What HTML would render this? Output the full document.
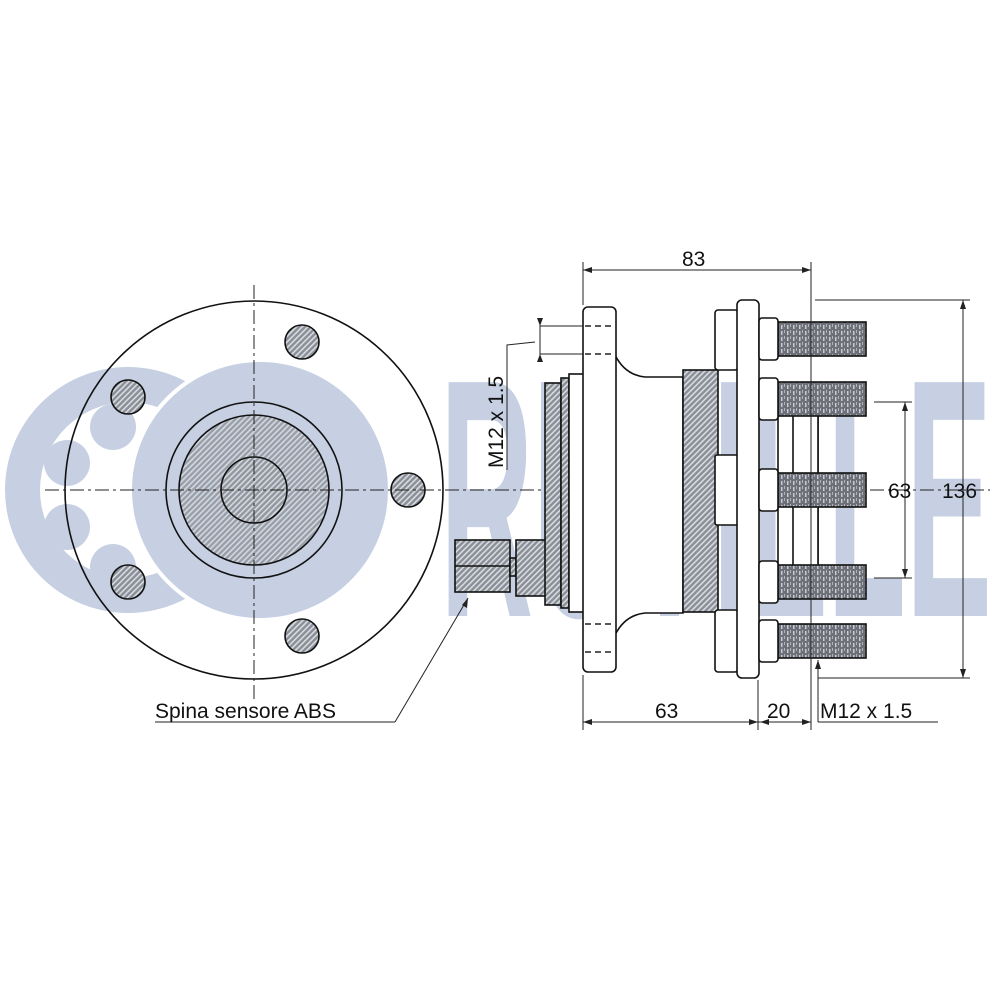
<!DOCTYPE html>
<html><head><meta charset="utf-8"><style>
html,body{margin:0;padding:0;background:#fff}
svg{display:block}
text{font-family:"Liberation Sans",Arial,sans-serif;fill:#111}
</style></head><body>
<svg width="1000" height="1000" viewBox="0 0 1000 1000" xmlns="http://www.w3.org/2000/svg">
<defs>
<pattern id="h" width="4" height="4" patternUnits="userSpaceOnUse" patternTransform="rotate(45)">
<rect width="4" height="4" fill="#8a8e96"/><rect width="1.6" height="4" fill="#d8dbe0"/></pattern>
<pattern id="t" width="6" height="6" patternUnits="userSpaceOnUse">
<rect width="6" height="6" fill="#6d7079"/><rect x="1" y="1" width="1.5" height="4" fill="#c8cbd0"/><rect x="4" y="0" width="1" height="3" fill="#b0b3b8"/></pattern>
</defs>
<!-- watermark -->
<g fill="#c6d0e2">
<path fill-rule="evenodd" d="M5,490 a123,123 0 1,0 246,0 a123,123 0 1,0 -246,0 Z M40,490 a88,88 0 1,0 176,0 a88,88 0 1,0 -176,0 Z"/>
<circle cx="113" cy="427" r="23"/><circle cx="67" cy="463" r="23"/><circle cx="67" cy="527" r="23"/><circle cx="113" cy="567" r="23"/>
<circle cx="260" cy="490" r="130" stroke="#fff" stroke-width="4"/>
<text x="440" y="616" font-size="340" font-weight="bold" textLength="552" lengthAdjust="spacingAndGlyphs" style="fill:#c6d0e2">RUVILLE</text>
</g>
<!-- left view -->
<g stroke="#111" stroke-width="1.6" fill="none">
<circle cx="254" cy="490" r="189"/>
<circle cx="254" cy="490" r="88"/>
<circle cx="254" cy="490" r="75" fill="url(#h)" fill-opacity="0.75"/>
<circle cx="254" cy="490" r="33" fill="url(#h)" fill-opacity="0.5"/>
<g fill="url(#h)"><circle cx="302" cy="342" r="17"/><circle cx="128" cy="397" r="17"/><circle cx="128" cy="582" r="17"/><circle cx="302" cy="636" r="17"/><circle cx="408" cy="490" r="17"/></g>
</g>
<g stroke="#222" stroke-width="1" stroke-dasharray="14,4,3,4" fill="none">
<line x1="45" y1="490" x2="990" y2="490"/><line x1="254" y1="285" x2="254" y2="700"/>
</g>
<!-- right view -->
<g stroke="#111" stroke-width="1.6">
<rect x="455" y="540" width="55" height="52" fill="url(#h)"/>
<line x1="455" y1="566" x2="510" y2="566"/>
<rect x="510" y="558" width="6" height="18" fill="url(#h)"/>
<rect x="516" y="540" width="30" height="56" fill="url(#h)"/>
<rect x="545" y="383" width="16" height="222" fill="url(#h)"/>
<rect x="561" y="378" width="8" height="230" fill="url(#h)"/>
<rect x="569" y="374" width="16" height="238" fill="#fff"/>
<path d="M615,355 q10,20 30,22 h38 v236 h-38 q-20,2 -30,22 Z" fill="#fff"/>
<rect x="683" y="370" width="35" height="242" fill="url(#h)"/>
<rect x="583" y="307" width="33" height="365" rx="5" fill="#fff"/>
<rect x="715" y="310" width="23" height="60" rx="3" fill="#fff"/>
<rect x="715" y="610" width="23" height="62" rx="3" fill="#fff"/>
<rect x="715" y="455" width="23" height="70" rx="2" fill="#fff"/>
<rect x="737" y="300" width="22" height="378" rx="5" fill="#fff"/>
<rect x="778" y="402" width="40" height="176" fill="#fff"/>
<rect x="793" y="402" width="25" height="176" fill="#fff"/>
<g fill="url(#t)">
<rect x="778" y="322" width="88" height="34"/><rect x="778" y="382" width="88" height="34"/>
<rect x="778" y="473" width="88" height="34"/><rect x="778" y="565" width="88" height="34"/>
<rect x="778" y="624" width="88" height="34"/>
</g>
<g fill="#fff">
<rect x="759" y="318" width="19" height="42" rx="3"/><rect x="759" y="378" width="19" height="42" rx="3"/>
<rect x="759" y="469" width="19" height="42" rx="3"/><rect x="759" y="561" width="19" height="42" rx="3"/>
<rect x="759" y="620" width="19" height="42" rx="3"/>
</g>
</g>
<g stroke="#222" stroke-width="1.5" stroke-dasharray="6,4">
<line x1="585" y1="326" x2="615" y2="326"/><line x1="585" y1="354" x2="615" y2="354"/>
<line x1="585" y1="624" x2="615" y2="624"/><line x1="585" y1="652" x2="615" y2="652"/>
</g>
<!-- dimensions -->
<g stroke="#222" stroke-width="1" fill="none">
<line x1="583" y1="262" x2="583" y2="305"/><line x1="811" y1="262" x2="811" y2="730"/>
<line x1="583" y1="270" x2="811" y2="270"/>
<line x1="815" y1="300" x2="970" y2="300"/><line x1="818" y1="678" x2="970" y2="678"/>
<line x1="963" y1="300" x2="963" y2="678"/>
<line x1="874" y1="402" x2="912" y2="402"/><line x1="874" y1="578" x2="912" y2="578"/>
<line x1="905" y1="402" x2="905" y2="578"/>
<line x1="583" y1="675" x2="583" y2="730"/><line x1="758" y1="680" x2="758" y2="730"/>
<line x1="583" y1="722" x2="811" y2="722"/>
<line x1="818" y1="660" x2="818" y2="722"/><line x1="818" y1="722" x2="938" y2="722"/>
<line x1="540" y1="326" x2="583" y2="326"/><line x1="540" y1="354" x2="583" y2="354"/>
<line x1="540" y1="318" x2="540" y2="360"/>
<polyline points="507,470 507,345 535,342"/>
<line x1="155" y1="722" x2="395" y2="722"/><line x1="395" y1="722" x2="468" y2="598"/>
</g>
<g fill="#222">
<path d="M583,270 l9,-3 v6 Z"/><path d="M811,270 l-9,-3 v6 Z"/>
<path d="M963,300 l-3,9 h6 Z"/><path d="M963,678 l-3,-9 h6 Z"/>
<path d="M905,402 l-3,9 h6 Z"/><path d="M905,578 l-3,-9 h6 Z"/>
<path d="M583,722 l9,-3 v6 Z"/><path d="M758,722 l-9,-3 v6 Z"/><path d="M760,722 l9,-3 v6 Z"/><path d="M811,722 l-9,-3 v6 Z"/>
<path d="M818,660 l-3,9 h6 Z"/>
<path d="M540,326 l-3,-8 h6 Z"/><path d="M540,354 l-3,8 h6 Z"/>
<path d="M468,598 l-1,10 l-5,-3 Z"/>
</g>
<g font-size="21">
<text x="682" y="266">83</text>
<text x="888" y="498">63</text>
<text x="942" y="498">136</text>
<text x="655" y="718">63</text>
<text x="767" y="718">20</text>
<text x="820" y="718">M12 x 1.5</text>
<text x="155" y="718">Spina sensore ABS</text>
<text transform="translate(503,468) rotate(-90)">M12 x 1.5</text>
</g>
</svg>
</body></html>
